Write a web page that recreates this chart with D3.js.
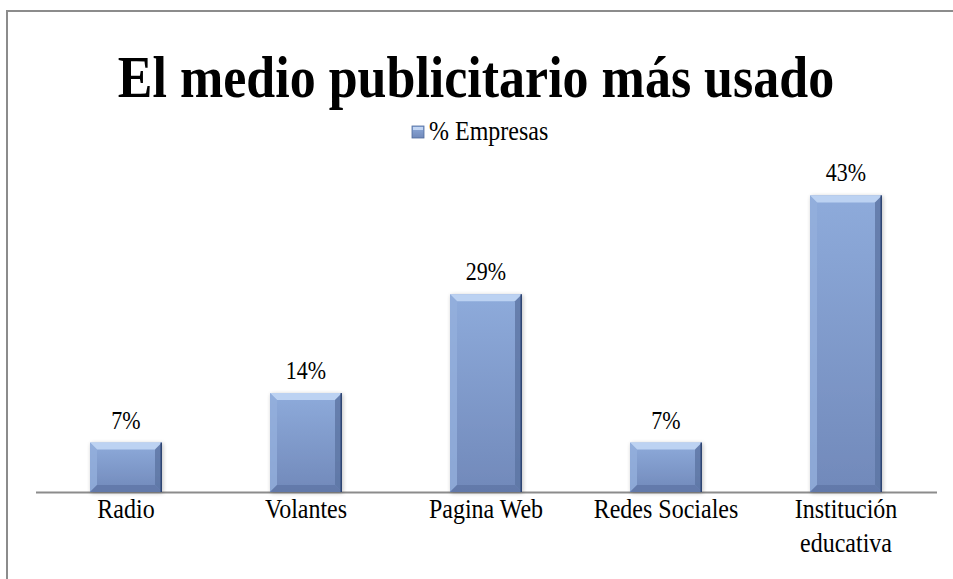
<!DOCTYPE html>
<html>
<head>
<meta charset="utf-8">
<script src="https://cdn.jsdelivr.net/npm/d3@7"></script>
<style>
  body { margin: 0; background: #fff; }
</style>
</head>
<body>
<div id="chart"></div>
<script>
// data
var categories = ["Radio", "Volantes", "Pagina Web", "Redes Sociales", "Institución educativa"];
var values = [0.0714, 0.1429, 0.2857, 0.0714, 0.4286];
var valueLabels = ["7%", "14%", "29%", "7%", "43%"];
var seriesName = "% Empresas";
var title = "El medio publicitario más usado";

var svg_width = 953, svg_height = 579;
var serif = "'Liberation Serif', 'Times New Roman', Times, serif";
var stretch = 1.12; // text in the picture is a little taller than wide

var svg = d3.select("#chart").append("svg")
  .attr("width", svg_width)
  .attr("height", svg_height)
  .attr("font-family", serif);

// outer frame (right/bottom run off the picture)
svg.append("rect")
  .attr("x", 7).attr("y", 11)
  .attr("width", 980).attr("height", 600)
  .attr("fill", "none")
  .attr("stroke", "#8c8c8c")
  .attr("stroke-width", 2);

var x = d3.scaleBand()
  .domain(categories)
  .range([36, 936]);

var y = d3.scaleLinear()
  .domain([0, 0.5])
  .range([492, 146]);

var barW = x.bandwidth() * 0.4;
var bev = 7;

function place(px, py) {
  return "translate(" + px + "," + py + ") scale(1," + stretch + ")";
}

// gradients
var defs = svg.append("defs");
var g1 = defs.append("linearGradient").attr("id", "body")
  .attr("x1", 0).attr("y1", 0).attr("x2", 0).attr("y2", 1);
g1.append("stop").attr("offset", "0%").attr("stop-color", "#8eabdb");
g1.append("stop").attr("offset", "100%").attr("stop-color", "#7189ba");

var sh = defs.append("filter").attr("id", "shadow")
  .attr("x", "-20%").attr("y", "-20%").attr("width", "140%").attr("height", "140%");
sh.append("feGaussianBlur").attr("in", "SourceAlpha").attr("stdDeviation", 2);
sh.append("feOffset").attr("dx", 1).attr("dy", 1).attr("result", "b");
sh.append("feComponentTransfer").append("feFuncA").attr("type", "linear").attr("slope", 0.25);
var mg = sh.append("feMerge");
mg.append("feMergeNode");
mg.append("feMergeNode").attr("in", "SourceGraphic");

// title
svg.append("text")
  .attr("transform", place(476, 97))
  .attr("text-anchor", "middle")
  .attr("font-size", "52px")
  .attr("font-weight", "bold")
  .text(title);

// legend
var legend = svg.append("g").attr("transform", "translate(412,126)");
legend.append("rect")
  .attr("width", 12).attr("height", 12)
  .attr("fill", "url(#body)")
  .attr("stroke", "#4f6a9c").attr("stroke-width", 0.8);
legend.append("rect")
  .attr("x", 1).attr("y", 1).attr("width", 10).attr("height", 3)
  .attr("fill", "#c3d6f3");
legend.append("text")
  .attr("transform", place(17, 14))
  .attr("font-size", "24px")
  .text(seriesName);

// axis line
svg.append("line")
  .attr("x1", 36).attr("x2", 937)
  .attr("y1", 492.5).attr("y2", 492.5)
  .attr("stroke", "#8c8c8c")
  .attr("stroke-width", 2);

// bars
var bars = svg.append("g").selectAll("g")
  .data(categories)
  .enter().append("g")
  .attr("filter", "url(#shadow)");

function bx(d) { return x(d) + (x.bandwidth() - barW) / 2; }

bars.append("rect")
  .attr("x", bx)
  .attr("y", function(d, i) { return y(values[i]); })
  .attr("width", barW)
  .attr("height", function(d, i) { return y(0) - y(values[i]); })
  .attr("fill", "url(#body)");

// bevel edges
function poly(pts) { return pts.map(function(p) { return p.join(","); }).join(" "); }
bars.append("polygon") // top
  .attr("points", function(d, i) {
    var l = bx(d), r = l + barW, t = y(values[i]);
    return poly([[l, t], [r, t], [r - bev, t + bev], [l + bev, t + bev]]);
  })
  .attr("fill", "#bcd2f2");
bars.append("polygon") // left
  .attr("points", function(d, i) {
    var l = bx(d), t = y(values[i]), b = y(0);
    return poly([[l, t], [l + bev, t + bev], [l + bev, b - bev], [l, b]]);
  })
  .attr("fill", "#93afdc").attr("opacity", 0.8);
bars.append("polygon") // right
  .attr("points", function(d, i) {
    var r = bx(d) + barW, t = y(values[i]), b = y(0);
    return poly([[r, t], [r - bev, t + bev], [r - bev, b - bev], [r, b]]);
  })
  .attr("fill", "#5d74a3").attr("opacity", 0.8);
bars.append("polygon") // bottom
  .attr("points", function(d, i) {
    var l = bx(d), r = l + barW, b = y(0);
    return poly([[l, b], [l + bev, b - bev], [r - bev, b - bev], [r, b]]);
  })
  .attr("fill", "#5f76a6").attr("opacity", 0.8);
bars.append("rect")
  .attr("x", function(d) { return bx(d) + barW - 1.5; })
  .attr("y", function(d, i) { return y(values[i]); })
  .attr("width", 1.5)
  .attr("height", function(d, i) { return y(0) - y(values[i]); })
  .attr("fill", "#2f4472");

// value labels
svg.append("g").selectAll("text")
  .data(categories)
  .enter().append("text")
  .attr("transform", function(d, i) { return place(x(d) + x.bandwidth() / 2, y(values[i]) - 14); })
  .attr("text-anchor", "middle")
  .attr("font-size", "22px")
  .text(function(d, i) { return valueLabels[i]; });

// category labels
svg.append("g").selectAll("text")
  .data(categories)
  .enter().append("text")
  .attr("transform", function(d) { return place(x(d) + x.bandwidth() / 2, 518); })
  .attr("text-anchor", "middle")
  .attr("font-size", "24px")
  .each(function(d) {
    var lines = d === "Institución educativa" ? ["Institución", "educativa"] : [d];
    var t = d3.select(this);
    lines.forEach(function(s, k) {
      t.append("tspan")
        .attr("x", 0)
        .attr("dy", k === 0 ? 0 : 30)
        .text(s);
    });
  });
</script>
</body>
</html>
